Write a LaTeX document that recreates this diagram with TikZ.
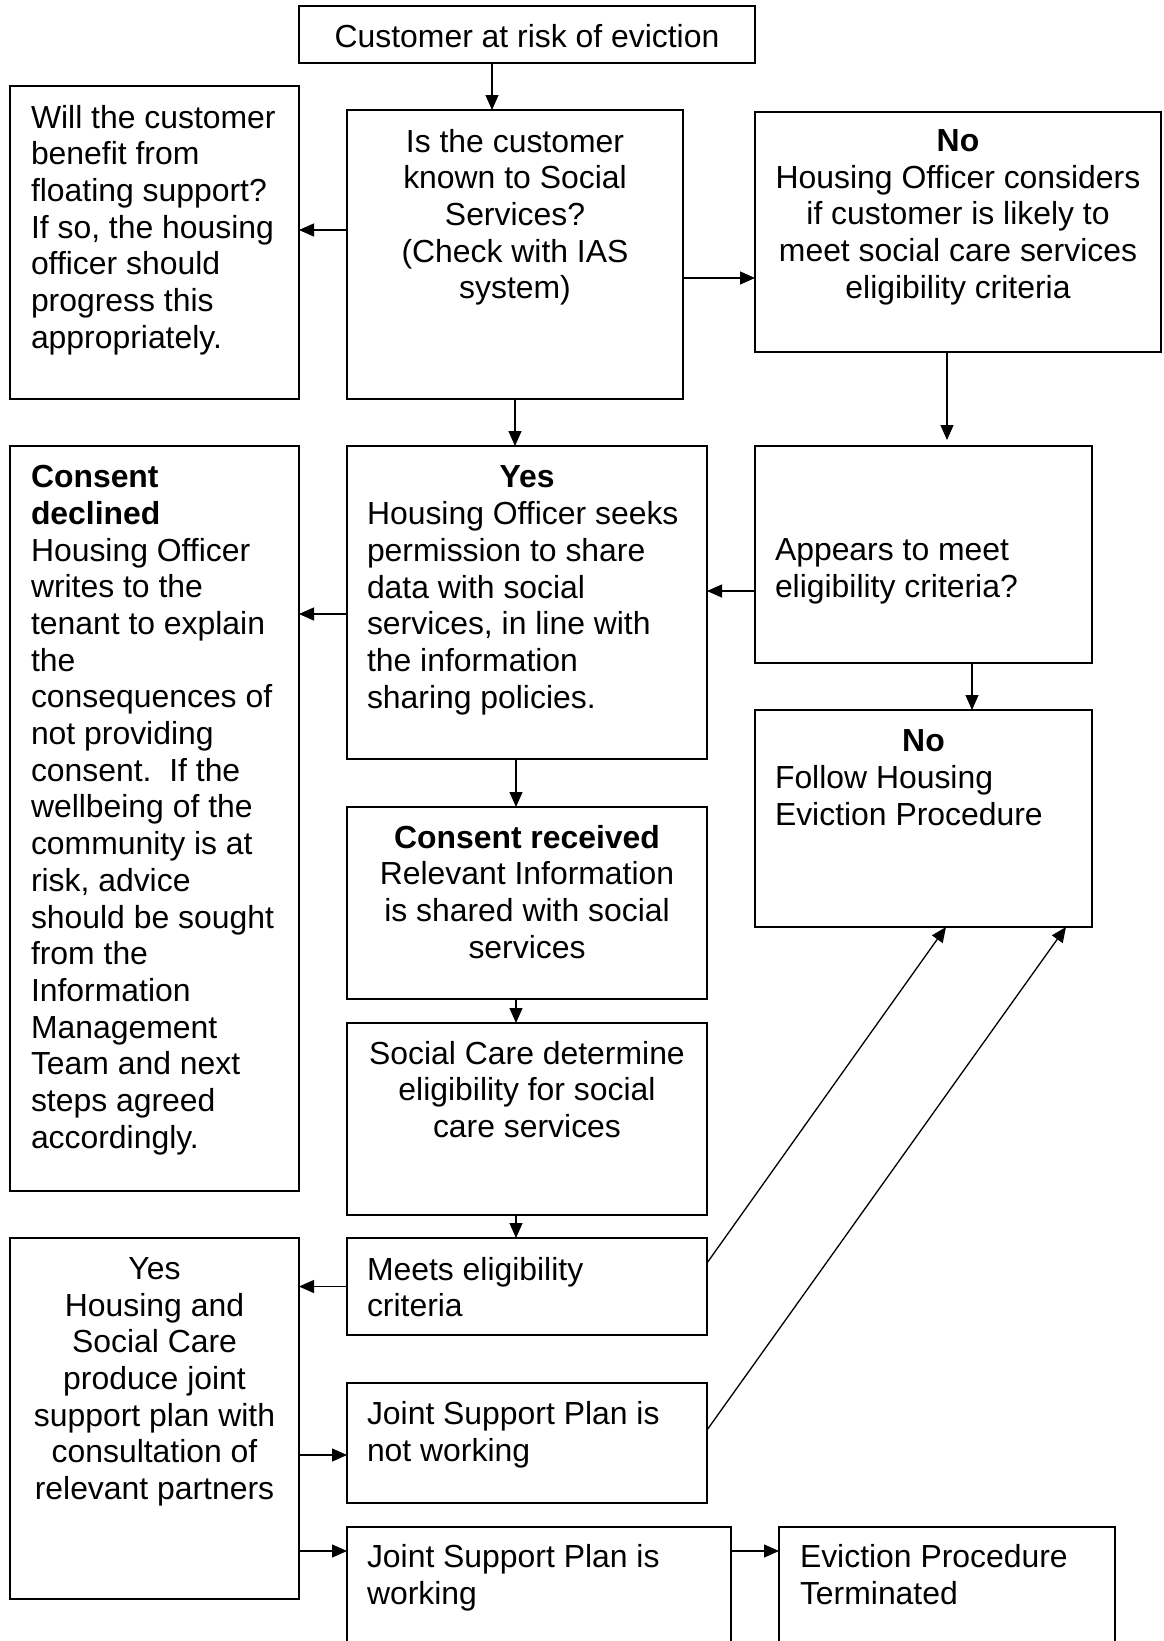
\documentclass[tikz,border=0pt]{standalone}
\usepackage{fontspec}
\setmainfont{Liberation Sans}
\usetikzlibrary{arrows.meta}
\newcommand\flowfont{\fontsize{31.9pt}{36.7pt}\selectfont}
\newcommand\linestrut{\rule{0pt}{25.6pt}}

\begin{document}
\begin{tikzpicture}[x=1pt,y=-1pt,
  box/.style={draw, line width=1.5pt, anchor=north west, inner sep=0pt, outer sep=0pt},
  txt/.style={inner sep=0pt, outer sep=0pt, font=\flowfont, execute at begin node=\linestrut},
  tl/.style={txt, anchor=north west, align=left},
  tc/.style={txt, anchor=north, align=center},
  arr/.style={line width=1.3pt, -{Triangle[length=15pt,width=13pt]}}]

\fill[white] (0,0) rectangle (1163,1641);
\useasboundingbox (0,0) rectangle (1163,1641);

% boxes
\node[box, minimum width=456pt, minimum height=57pt]  (top)    at (299,6)    {};
\node[box, minimum width=289pt, minimum height=313pt] (left1)  at (10,86)    {};
\node[box, minimum width=336pt, minimum height=289pt] (mid1)   at (347,110)  {};
\node[box, minimum width=406pt, minimum height=240pt] (right1) at (755,112)  {};
\node[box, minimum width=289pt, minimum height=745pt] (left2)  at (10,446)   {};
\node[box, minimum width=360pt, minimum height=313pt] (mid2)   at (347,446)  {};
\node[box, minimum width=337pt, minimum height=217pt] (right2) at (755,446)  {};
\node[box, minimum width=337pt, minimum height=217pt] (right3) at (755,710)  {};
\node[box, minimum width=360pt, minimum height=192pt] (mid3)   at (347,807)  {};
\node[box, minimum width=360pt, minimum height=192pt] (mid4)   at (347,1023) {};
\node[box, minimum width=360pt, minimum height=97pt]  (mid5)   at (347,1238) {};
\node[box, minimum width=289pt, minimum height=361pt] (left3)  at (10,1238)  {};
\node[box, minimum width=360pt, minimum height=120pt] (mid6)   at (347,1383) {};
\node[box, minimum width=384pt, minimum height=130pt] (mid7)   at (347,1527) {};
\node[box, minimum width=336pt, minimum height=130pt] (endbox) at (779,1527) {};

% texts
\node[tc] (ttop) at ([shift={(0,15.4)}]top.north) {Customer at risk of eviction};
\node[tl] (tleft1) at ([shift={(21,19)}]left1.north west)
  {Will the customer\\benefit from\\floating support?\\If so, the housing\\officer should\\progress this\\appropriately.};
\node[tc] (tmid1) at ([shift={(0,19)}]mid1.north)
  {Is the customer\\known to Social\\Services?\\(Check with IAS\\system)};
\node[tc] (tright1) at ([shift={(0,17.4)}]right1.north)
  {\textbf{No}\\Housing Officer considers\\if customer is likely to\\meet social care services\\eligibility criteria};
\node[tl] (tleft2) at ([shift={(21,19.4)}]left2.north west)
  {\textbf{Consent}\\\textbf{declined}\\Housing Officer\\writes to the\\tenant to explain\\the\\consequences of\\not providing\\consent.\ \ If the\\wellbeing of the\\community is at\\risk, advice\\should be sought\\from the\\Information\\Management\\Team and next\\steps agreed\\accordingly.};
\node[tc] (hmid2) at ([shift={(0,15.4)}]mid2.north) {\textbf{Yes}};
\node[tl] (tmid2) at ([shift={(20,55.6)}]mid2.north west)
  {Housing Officer seeks\\permission to share\\data with social\\services, in line with\\the information\\sharing policies.};
\node[tl] (tright2) at ([shift={(20,92.8)}]right2.north west)
  {Appears to meet\\eligibility criteria?};
\node[tc] (hright3) at ([shift={(0,15.4)}]right3.north) {\textbf{No}};
\node[tl] (tright3) at ([shift={(20,55.6)}]right3.north west)
  {Follow Housing\\Eviction Procedure};
\node[tc] (tmid3) at ([shift={(0,17.9)}]mid3.north)
  {\textbf{Consent received}\\Relevant Information\\is shared with social\\services};
\node[tc] (tmid4) at ([shift={(0,17.9)}]mid4.north)
  {Social Care determine\\eligibility for social\\care services};
\node[tl] (tmid5) at ([shift={(20,19)}]mid5.north west) {Meets eligibility\\criteria};
\node[tc] (tleft3) at ([shift={(0,19.4)}]left3.north)
  {Yes\\Housing and\\Social Care\\produce joint\\support plan with\\consultation of\\relevant partners};
\node[tl] (tmid6) at ([shift={(20,18.4)}]mid6.north west) {Joint Support Plan is\\not working};
\node[tl] (tmid7) at ([shift={(20,17.6)}]mid7.north west) {Joint Support Plan is\\working};
\node[tl] (tend) at ([shift={(21,17.6)}]endbox.north west) {Eviction Procedure\\Terminated};

% connectors
\draw[arr] ([xshift=-35pt]top.south) -- ([xshift=-35pt]top.south |- mid1.north);
\draw[arr] ([yshift=24.5pt]mid1.west) -- ([yshift=24.5pt]mid1.west -| left1.east);
\draw[arr] ([yshift=-23.5pt]mid1.east) -- ([yshift=-23.5pt]mid1.east -| right1.west);
\draw[arr, shorten >=6pt] ([xshift=-11pt]right1.south) -- ([xshift=-11pt]right1.south |- right2.north);
\draw[arr] (mid1.south) -- (mid1.south |- mid2.north);
\draw[arr] ([yshift=-36.5pt]right2.west) -- ([yshift=-36.5pt]right2.west -| mid2.east);
\draw[arr] ([yshift=-11.5pt]mid2.west) -- ([yshift=-11.5pt]mid2.west -| left2.east);
\draw[arr] ([xshift=48.5pt]right2.south) -- ([xshift=48.5pt]right2.south |- right3.north);
\draw[arr] ([xshift=-11pt]mid2.south) -- ([xshift=-11pt]mid2.south |- mid3.north);
\draw[arr] ([xshift=-11pt]mid3.south) -- ([xshift=-11pt]mid3.south |- mid4.north);
\draw[arr] ([xshift=-11pt]mid4.south) -- ([xshift=-11pt]mid4.south |- mid5.north);
\draw[arr] (mid5.west) -- (mid5.west -| left3.east);
\draw[arr] ([yshift=23.5pt]mid5.east) -- ([xshift=22.5pt]right3.south);
\draw[arr] ([yshift=13pt]mid6.east) -- ([xshift=142.5pt]right3.south);
\draw[arr] ([yshift=-12pt]mid6.west -| left3.east) -- ([yshift=-12pt]mid6.west);
\draw[arr] ([yshift=-24pt]mid7.north west -| left3.east) -- ([yshift=-24pt]mid7.north west);
\draw[arr] ([yshift=-24pt]mid7.north east) -- ([yshift=-24pt]mid7.north east -| endbox.west);
\end{tikzpicture}
\end{document}
